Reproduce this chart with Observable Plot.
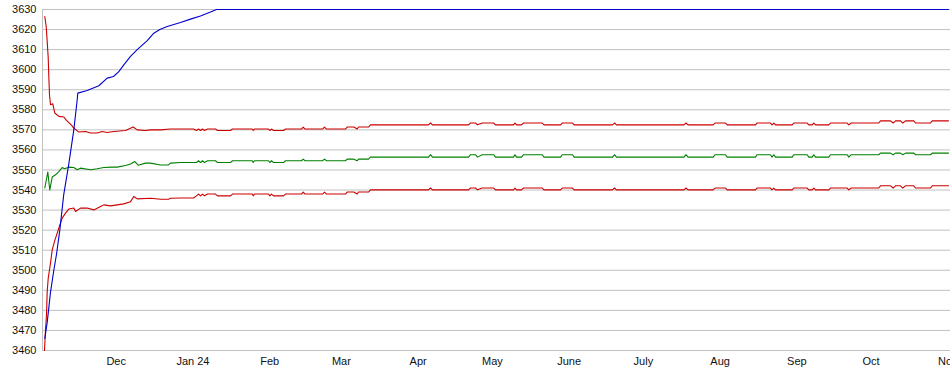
<!DOCTYPE html>
<html><head><meta charset="utf-8">
<script src="https://cdn.jsdelivr.net/npm/d3@7"></script>
<script src="https://cdn.jsdelivr.net/npm/@observablehq/plot@0.6"></script>
<style>html,body{margin:0;padding:0;background:#fff;overflow:hidden}</style>
</head><body><div id="chart"></div>
<script>
// Day offsets from 1 Nov 2023 (fractional days)
const blueDays = [1.15, 2.12, 3.45, 4.79, 5.88, 7.21, 8.83, 10.85, 12.87, 14.24, 14.48, 18.28, 22.97, 26.36, 28.91, 31.05, 33.07, 35.78, 38.48, 42.53, 45.19, 47.62, 50.61, 55.98, 60.02, 64.06, 68.10, 70.53, 366.28];
const blueVals = [3466, 3474, 3489, 3500, 3508, 3520, 3538, 3553, 3570, 3585, 3588.3, 3589.6, 3592, 3595.8, 3596.6, 3599, 3602.4, 3606.6, 3610, 3614.5, 3618.2, 3620, 3621.5, 3623.5, 3625.2, 3626.8, 3628.7, 3630, 3630];

const upperEarlyDays = [1.15, 1.72, 2.12, 2.53, 2.77, 3.05, 3.45, 4.38, 5.19, 6.81, 8.83, 9.92, 11.82, 12.87, 14.89, 17.60, 19.62, 22.32, 24.34, 26.36, 29.03, 33.76, 36.87, 38.48, 41.84, 43.86, 47.90, 51.94, 55.98];
const upperEarlyVals = [3626.5, 3621.5, 3614, 3605.8, 3596.6, 3587.5, 3582.5, 3583, 3578.4, 3576.7, 3576.4, 3574.7, 3572.5, 3570.9, 3568.9, 3569.2, 3568.4, 3568.4, 3569.2, 3568.7, 3569.2, 3569.7, 3571.4, 3570, 3569.7, 3570, 3570, 3570.4, 3570.4];

const midEarlyDays = [1.15, 2.36, 3.17, 4.14, 5.47, 6.81, 8.18, 9.11, 10.85, 12.87, 14.24, 15.58, 19.62, 22.32, 24.99, 28.38, 30.40, 33.76, 35.78, 37.52, 38.89, 41.84, 43.86, 47.90, 51.13, 51.94, 55.98];
const midEarlyVals = [3541, 3549, 3540, 3546.5, 3547.6, 3549.2, 3551.2, 3550.6, 3551.4, 3551.2, 3550.1, 3550.9, 3550.1, 3550.6, 3551.2, 3551.4, 3551.4, 3552.2, 3553, 3554.2, 3552.4, 3553.4, 3553.4, 3552.5, 3552.5, 3553.4, 3553.7];

const lowerEarlyDays = [1.03, 1.43, 1.84, 2.12, 2.53, 3.45, 4.14, 5.07, 6.16, 6.81, 8.18, 9.52, 10.85, 12.87, 13.56, 15.58, 18.28, 20.95, 23.66, 24.99, 27.70, 30.40, 33.07, 35.78, 37.11, 38.48, 43.86, 47.90, 51.13, 51.94, 55.98];
const lowerEarlyVals = [3460, 3470.3, 3477.8, 3489.4, 3496, 3503.6, 3510.2, 3514.4, 3518.5, 3521, 3526, 3528.5, 3530.5, 3531, 3529.3, 3531, 3531, 3530.1, 3531.8, 3532.6, 3532.1, 3532.6, 3533.1, 3534.2, 3536.8, 3535.6, 3535.9, 3535.4, 3535.4, 3535.9, 3536];

const flatDays = [61.23, 62.44, 63.25, 64.06, 64.87, 65.68, 66.89, 70.12, 70.93, 76.18,
  76.99, 84.95, 85.35, 85.88, 91.54, 92.06, 92.75, 93.56, 97.60, 98.40,
  104.87, 105.56, 106.28, 113.35, 114.16, 114.97, 122.65, 123.33, 126.00, 127.37,
  127.90, 131.94, 132.75, 156.18, 156.99, 157.80, 172.34, 173.15, 175.17, 175.98,
  177.88, 182.57, 183.25, 190.53, 191.13, 191.74, 193.76, 194.57, 202.12, 202.85,
  209.52, 210.20, 214.36, 215.05, 230.53, 231.33, 232.14, 259.41, 260.22, 261.03,
  271.21, 271.94, 276.18, 276.87, 288.30, 288.91, 294.36, 294.97, 295.70, 296.38,
  303.13, 303.78, 309.19, 309.84, 311.21, 311.86, 312.55, 317.92, 318.60, 325.35,
  326.00, 326.97, 338.12, 338.81, 342.85, 343.94, 344.87, 346.89, 347.82, 348.91,
  352.26, 352.95, 359.01, 359.70, 366.28];
const upperFlat = [3570.4, 3569.7, 3570.4, 3569.7, 3570.4, 3569.7, 3570.4, 3570.4, 3569.7, 3569.7,
  3570.4, 3570.4, 3569.7, 3570.4, 3570.4, 3569.7, 3570.4, 3569.7, 3569.7, 3570.4,
  3570.4, 3571.4, 3570.4, 3570.4, 3571.4, 3570.4, 3570.4, 3571.4, 3571.4, 3570.4,
  3571.4, 3571.4, 3572.5, 3572.5, 3573.4, 3572.5, 3572.5, 3573.4, 3573.4, 3572.5,
  3573.4, 3573.4, 3572.5, 3572.5, 3573.4, 3572.5, 3572.5, 3573.4, 3573.4, 3572.5,
  3572.5, 3573.4, 3573.4, 3572.5, 3572.5, 3573.4, 3572.5, 3572.5, 3573.4, 3572.5,
  3572.5, 3573.4, 3573.4, 3572.5, 3572.5, 3573.4, 3573.4, 3572.5, 3573.4, 3572.5,
  3572.5, 3573.4, 3573.4, 3572.5, 3572.5, 3573.4, 3572.5, 3572.5, 3573.4, 3573.4,
  3572.5, 3573.4, 3573.4, 3574.5, 3574.5, 3573.4, 3574.5, 3574.5, 3573.4, 3574.5,
  3574.5, 3573.4, 3573.4, 3574.5, 3574.5];
const midFlat = [3553.7, 3553.7, 3554.6, 3553.7, 3554.6, 3553.7, 3554.6, 3554.6, 3553.7, 3553.7,
  3554.6, 3554.6, 3553.7, 3554.6, 3554.6, 3553.7, 3554.6, 3553.7, 3553.7, 3554.6,
  3554.6, 3555.4, 3554.6, 3554.6, 3555.4, 3554.6, 3554.6, 3555.4, 3555.4, 3554.6,
  3555.4, 3555.4, 3556.4, 3556.4, 3557.6, 3556.4, 3556.4, 3557.6, 3557.6, 3556.4,
  3557.6, 3557.6, 3556.4, 3556.4, 3557.6, 3556.4, 3556.4, 3557.6, 3557.6, 3556.4,
  3556.4, 3557.6, 3557.6, 3556.4, 3556.4, 3557.6, 3556.4, 3556.4, 3557.6, 3556.4,
  3556.4, 3557.6, 3557.6, 3556.4, 3556.4, 3557.6, 3557.6, 3556.4, 3557.6, 3556.4,
  3556.4, 3557.6, 3557.6, 3556.4, 3556.4, 3557.6, 3556.4, 3556.4, 3557.6, 3557.6,
  3556.4, 3557.6, 3557.6, 3558.4, 3558.4, 3557.6, 3558.4, 3558.4, 3557.6, 3558.4,
  3558.4, 3557.6, 3557.6, 3558.4, 3558.4];
const lowerFlat = [3536, 3537.1, 3538, 3537.1, 3538, 3537.1, 3538, 3538, 3537.1, 3537.1,
  3538, 3538, 3537.1, 3538, 3538, 3537.1, 3538, 3537.1, 3537.1, 3538,
  3538, 3539, 3538, 3538, 3539, 3538, 3538, 3539, 3539, 3538,
  3539, 3539, 3540.1, 3540.1, 3541, 3540.1, 3540.1, 3541, 3541, 3540.1,
  3541, 3541, 3540.1, 3540.1, 3541, 3540.1, 3540.1, 3541, 3541, 3540.1,
  3540.1, 3541, 3541, 3540.1, 3540.1, 3541, 3540.1, 3540.1, 3541, 3540.1,
  3540.1, 3541, 3541, 3540.1, 3540.1, 3541, 3541, 3540.1, 3541, 3540.1,
  3540.1, 3541, 3541, 3540.1, 3540.1, 3541, 3540.1, 3540.1, 3541, 3541,
  3540.1, 3541, 3541, 3542.1, 3542.1, 3541, 3542.1, 3542.1, 3541, 3542.1,
  3542.1, 3541, 3541, 3542.1, 3542.1];

const yTicks = [3460, 3470, 3480, 3490, 3500, 3510, 3520, 3530, 3540, 3550, 3560, 3570, 3580, 3590, 3600, 3610, 3620, 3630];
const monthDates = ["2023-12-01", "2024-01-01", "2024-02-01", "2024-03-01", "2024-04-01", "2024-05-01", "2024-06-01", "2024-07-01", "2024-08-01", "2024-09-01", "2024-10-01", "2024-11-01"];
const monthLabels = ["Dec", "Jan 24", "Feb", "Mar", "Apr", "May", "June", "July", "Aug", "Sep", "Oct", "Nov"];

const start = Date.UTC(2023, 10, 1);
const toDate = d => new Date(start + d * 864e5);
const build = (days, vals) => days.map((d, i) => ({date: toDate(d), value: vals[i]}));

const blue = build(blueDays, blueVals);
const upper = build(upperEarlyDays.concat(flatDays), upperEarlyVals.concat(upperFlat));
const mid = build(midEarlyDays.concat(flatDays), midEarlyVals.concat(midFlat));
const lower = build(lowerEarlyDays.concat(flatDays), lowerEarlyVals.concat(lowerFlat));

const tickDates = monthDates.map(s => new Date(s + "T00:00:00Z"));
const labelOf = new Map(tickDates.map((d, i) => [+d, monthLabels[i]]));
const x0 = toDate(0.22), x1 = toDate(367.09);

const chart = Plot.plot({
  width: 950,
  height: 375,
  marginLeft: 42,
  marginRight: 0,
  marginTop: 9,
  marginBottom: 25,
  style: {fontFamily: "'Liberation Sans', Arial, sans-serif", fontSize: "11px", background: "#fff", overflow: "visible"},
  x: {type: "utc", domain: [x0, x1]},
  y: {domain: [3460, 3630]},
  marks: [
    Plot.gridY(yTicks, {stroke: "#c0c0c0", strokeOpacity: 1, strokeWidth: 1}),
    Plot.ruleX([x0], {y1: 3460, y2: 3630, stroke: "#c0c0c0", strokeWidth: 1}),
    Plot.axisY(yTicks, {tickSize: 0, tickPadding: 6, tickFormat: d => String(d), label: null, fill: "#111", fontSize: 11}),
    Plot.axisX(tickDates, {tickSize: 0, tickPadding: 7, tickFormat: d => labelOf.get(+d), label: null, fill: "#111", fontSize: 11}),
    Plot.line(upper, {x: "date", y: "value", stroke: "#cc0000", strokeWidth: 1.1}),
    Plot.line(lower, {x: "date", y: "value", stroke: "#cc0000", strokeWidth: 1.1}),
    Plot.line(mid, {x: "date", y: "value", stroke: "#008000", strokeWidth: 1.1}),
    Plot.line(blue, {x: "date", y: "value", stroke: "#0000cc", strokeWidth: 1.1})
  ]
});
document.getElementById("chart").appendChild(chart);
</script>
</body></html>
